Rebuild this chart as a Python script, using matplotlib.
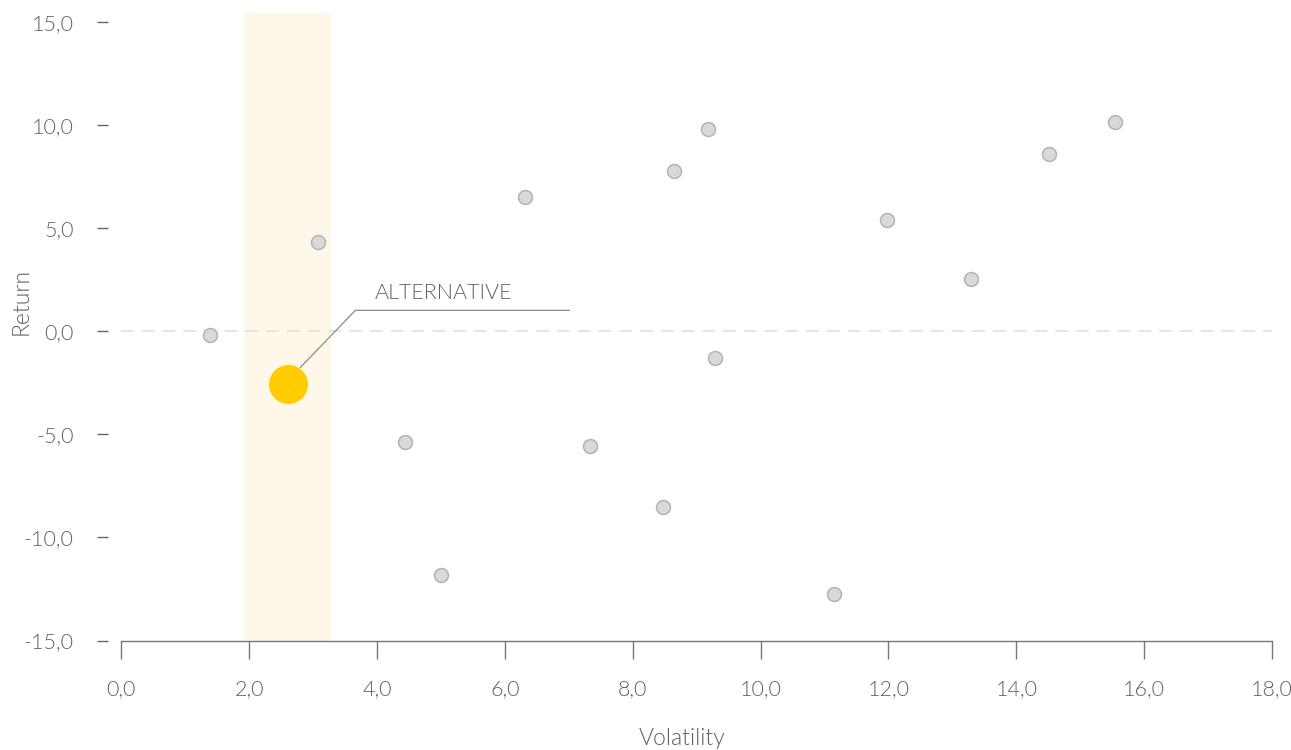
import matplotlib
matplotlib.use("Agg")
from matplotlib import pyplot as plt
from matplotlib.ticker import FuncFormatter, MultipleLocator

# volatility / return of the peer funds (grey dots)
volatility = [1.39, 3.08, 4.43, 5.0, 6.32, 7.33, 8.48, 8.65, 9.18, 9.29,
              11.15, 11.98, 13.29, 14.51, 15.55]
returns = [-0.2, 4.35, -5.35, -11.8, 6.5, -5.55, -8.5, 7.8, 9.8, -1.3,
           -12.75, 5.4, 2.55, 8.6, 10.15]

# highlighted fund
alt_name = "ALTERNATIVE"
alt_vol = 2.6
alt_ret = -2.55
band = (1.92, 3.28)

txt = "#5f5f5f"
plt.rcParams['font.family'] = ['Lato', 'DejaVu Sans']
plt.rcParams['font.weight'] = 300

fig = plt.figure(figsize=(12.91, 7.5), dpi=100)
ax = fig.add_axes([0.094, 0.146, 0.8913, 0.8367])

ax.axvspan(band[0], band[1], color="#fff8e8", lw=0, zorder=0)
ax.axhline(0, color="#e2e2e2", lw=1.3, dashes=(7, 4.5), zorder=1)

ax.scatter(volatility, returns, s=100, c="#d9d9d9", edgecolors="#b3b3b3",
           linewidths=1.1, zorder=3)
ax.scatter([alt_vol], [alt_ret], s=790, c="#ffcc00", lw=0, zorder=4)

# leader line + label
ax.plot([alt_vol + 0.2, alt_vol + 1.06, 7.01], [alt_ret + 0.8, 1.02, 1.02],
        color="#8c8c8c", lw=0.9, zorder=2)
ax.text(alt_vol + 1.36, 1.55, alt_name, fontsize=15.5, color=txt,
        fontweight=300, ha="left", va="baseline")

ax.set_xlim(0, 18)
ax.set_ylim(-15, 15.45)
ax.xaxis.set_major_locator(MultipleLocator(2))
ax.yaxis.set_major_locator(MultipleLocator(5))
fmt = FuncFormatter(lambda v, p: ("%.1f" % v).replace(".", ","))
ax.xaxis.set_major_formatter(fmt)
ax.yaxis.set_major_formatter(fmt)

for s in ("top", "right"):
    ax.spines[s].set_visible(False)
ax.spines["left"].set_position(("outward", 9.4))
ax.spines["left"].set_visible(False)
ax.spines["bottom"].set_color("#777777")
ax.spines["bottom"].set_linewidth(1)

ax.tick_params(axis="x", length=13, width=1, color="#777777", pad=15,
               labelsize=15.5, labelcolor=txt)
ax.tick_params(axis="y", length=8, width=1, color="#666666", pad=17,
               labelsize=15.5, labelcolor=txt)
for lab in ax.get_xticklabels() + ax.get_yticklabels():
    lab.set_fontweight(300)

ax.set_xlabel("Volatility", fontsize=16.5, color=txt, fontweight=300)
ax.set_ylabel("Return", fontsize=16.5, color=txt, fontweight=300)
ax.xaxis.set_label_coords(0.487, -0.139)
ax.yaxis.set_label_coords(-0.078, 0.54)

fig.savefig("out.png", dpi=100)
